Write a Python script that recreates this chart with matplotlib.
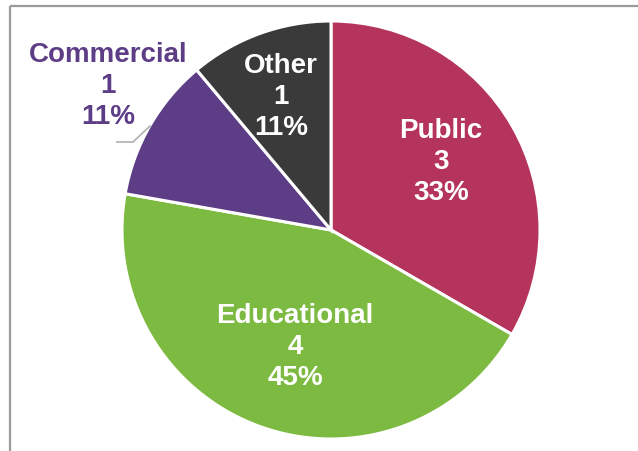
import matplotlib.pyplot as plt

# data
categories = ['Public', 'Educational', 'Commercial', 'Other']
counts = [3, 4, 1, 1]
pct_labels = ['33%', '45%', '11%', '11%']
colours = ['#B5345B', '#7DBA41', '#5E3D87', '#3A3A3A']

W, H = 638, 452
fig = plt.figure(figsize=(W / 100, H / 100), dpi=100)
ax = fig.add_axes([0, 0, 1, 1])

cx, cy, r = 331, H - 231, 209
wedges, _ = ax.pie(counts, colors=colours, startangle=90, counterclock=False,
                   center=(cx, cy), radius=r, frame=True,
                   wedgeprops=dict(edgecolor='white', linewidth=2.2))
ax.set_xlim(0, W)
ax.set_ylim(0, H)
ax.set_aspect('equal')
ax.axis('off')

# frame (top + left)
ax.plot([10, W], [H - 7, H - 7], color='#9a9a9a', lw=1.6, solid_capstyle='butt')
ax.plot([10, 10], [0, H - 7], color='#9a9a9a', lw=1.6, solid_capstyle='butt')

font = dict(family='Liberation Sans', fontsize=20, fontweight='bold',
            ha='center', va='center', linespacing=1.27)

label_pos = [(441, H - 162), (295, H - 347), (108, H - 86), (281, H - 97)]
text_col = ['white', 'white', colours[2], 'white']
for name, n, p, (x, y), c in zip(categories, counts, pct_labels, label_pos, text_col):
    ax.text(x, y, f'{name}\n{n}\n{p}', color=c, **font)

# leader line for Commercial
ax.plot([150, 133, 117], [H - 127, H - 143, H - 143], color='#b5b5b5', lw=1.3)

fig.savefig('out.png', dpi=100)
